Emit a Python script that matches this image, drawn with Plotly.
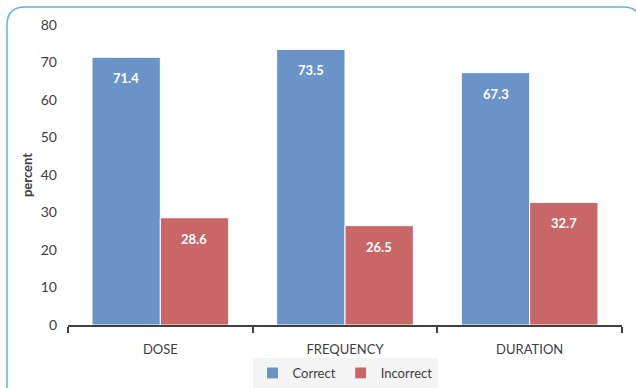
import plotly.graph_objects as go

categories = ["DOSE", "FREQUENCY", "DURATION"]
correct = [71.4, 73.5, 67.3]
incorrect = [28.6, 26.5, 32.7]
series_names = ["Correct", "Incorrect"]
y_ticks = [0, 10, 20, 30, 40, 50, 60, 70, 80]

BLUE = "#6a94c8"
RED = "#c96666"
FONT = "Lato, 'Open Sans', sans-serif"

L, R, T, B = 68, 14, 25, 63
W, H = 636, 388
pw, ph = W - L - R, H - T - B
BARGAP = 0.26
bar_px = pw / len(categories) * (1 - BARGAP) / 2

fig = go.Figure()
annotations = []
for i, (name, vals, col) in enumerate([(series_names[0], correct, BLUE),
                                       (series_names[1], incorrect, RED)]):
    fig.add_trace(go.Bar(
        name=name, x=categories, y=vals,
        marker=dict(color=col, line=dict(color="white", width=1)),
    ))
    for c, v in zip(categories, vals):
        annotations.append(dict(
            x=c, y=v, xref="x", yref="y", text=f"<b>{v:.1f}</b>", showarrow=False,
            xshift=(i - 0.5) * bar_px, yshift=-21, yanchor="middle",
            font=dict(color="white", size=13, family=FONT)))

def px2x(p):
    return (p - L) / pw

def py2y(p):
    return (H - B - p) / ph

# rounded border
x0, x1, y0, y1, r = 7, 641, 7, 430, 18
path = (f"M {px2x(x0)},{py2y(y1)} L {px2x(x0)},{py2y(y0 + r)} "
        f"Q {px2x(x0)},{py2y(y0)} {px2x(x0 + r)},{py2y(y0)} "
        f"L {px2x(x1 - r)},{py2y(y0)} Q {px2x(x1)},{py2y(y0)} {px2x(x1)},{py2y(y0 + r)} "
        f"L {px2x(x1)},{py2y(y1)}")

fig.update_layout(
    width=W, height=H,
    margin=dict(l=L, r=R, t=T, b=B, autoexpand=False),
    paper_bgcolor="white", plot_bgcolor="white",
    barmode="group", bargap=BARGAP, bargroupgap=0,
    font=dict(family=FONT, color="#404040", size=13),
    showlegend=True,
    legend=dict(orientation="h", x=0.5, xanchor="center", y=py2y(388), yanchor="bottom",
                bgcolor="#f4f4f4", font=dict(size=13, color="#404040"),
                itemwidth=30, tracegroupgap=0),
    annotations=annotations,
    shapes=[dict(type="path", path=path, xref="paper", yref="paper",
                 line=dict(color="#5bb8dc", width=1.5), layer="below")],
    xaxis=dict(showline=True, linecolor="#404040", linewidth=2, ticks="outside",
               tickson="boundaries", ticklen=6, tickwidth=2, tickcolor="#404040",
               showgrid=False, ticklabelstandoff=11, tickfont=dict(size=13)),
    yaxis=dict(range=[0, 80], tickvals=y_ticks, showgrid=False, zeroline=False,
               showline=False, ticks="", ticklabelstandoff=10,
               tickfont=dict(size=14),
               title=dict(text="<b>percent</b>", font=dict(size=13, color="#404040"), standoff=5)),
)

fig.write_html("out.html")
